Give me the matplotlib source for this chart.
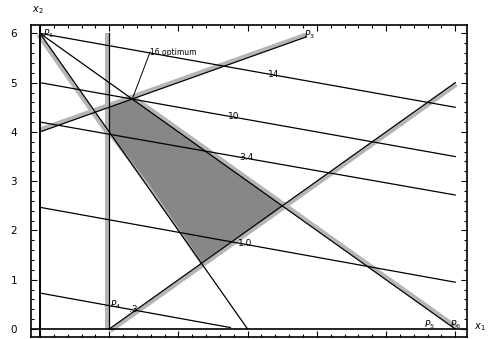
import numpy as np
import matplotlib
matplotlib.use('Agg')
import matplotlib.pyplot as plt
from matplotlib.transforms import offset_copy
from matplotlib.ticker import MultipleLocator

# feasible region
region_x1 = [1.0, 4 / 3, 3.5, 2.34, 1.56, 1.0]
region_x2 = [4.5, 14 / 3, 2.5, 1.36, 2.97, 4.0]

# constraint lines: (x1 start, x2 start, x1 end, x2 end)
c_vert = [1.0, 0.0, 1.0, 6.0]          # x1 = 1
c_steep = [0.0, 6.0, 3.0, 0.0]         # 2 x1 + x2 = 6
c_diag = [0.0, 6.0, 6.0, 0.0]          # x1 + x2 = 6
c_up = [0.0, 4.0, 3.85, 5.93]          # -x1 + 2 x2 = 8
c_rise = [1.0, 0.0, 6.0, 5.0]          # x1 - x2 = 1
opt_pt = [4 / 3, 14 / 3]

# level lines of the objective
lev_start_x1 = [0.0, 0.0, 0.0, 0.0, 0.0]
lev_start_x2 = [6.0, 5.0, 4.2, 2.47, 0.73]
lev_end_x1 = [6.0, 6.0, 6.0, 6.0, 2.75]
lev_end_x2 = [4.5, 3.5, 2.72, 0.95, 0.03]
lev_labels = ['14', '10', '3.4', '1.0', '.3']
lev_lab_x1 = [3.3, 2.72, 2.88, 2.86, 1.28]

fig = plt.figure(figsize=(4.88, 3.39), dpi=100)
ax = fig.add_axes([31 / 488, 2 / 339, 436 / 488, 312 / 339])
ax.set_xlim(-0.13, 6.17)
ax.set_ylim(-0.162, 6.17)

band_col = '#b5b5b5'


def band(seg, side, a=0.0, b=1.0):
    # one sided grey band on the infeasible side of a constraint
    x0, y0, x1, y1 = seg
    p0 = ax.transData.transform((x0, y0))
    p1 = ax.transData.transform((x1, y1))
    d = (p1 - p0) / np.hypot(*(p1 - p0))
    n = np.array([-d[1], d[0]])
    if np.dot(n, side) < 0:
        n = -n
    tr = offset_copy(ax.transData, fig=fig, x=2.3 * n[0], y=2.3 * n[1], units='dots')
    xs = [x0 + a * (x1 - x0), x0 + b * (x1 - x0)]
    ys = [y0 + a * (y1 - y0), y0 + b * (y1 - y0)]
    ax.plot(xs, ys, color=band_col, lw=2.9, solid_capstyle='butt', transform=tr, zorder=2)


def seg_line(seg, lw=0.9):
    ax.plot([seg[0], seg[2]], [seg[1], seg[3]], color='black', lw=lw, zorder=4)


ax.fill(region_x1, region_x2, facecolor='none', edgecolor=band_col, lw=3.5, zorder=1)
ax.fill(region_x1, region_x2, facecolor='#878787', edgecolor='none', zorder=1.5)

band(c_vert, (-1, 0))
band(c_steep, (-1, -1), 0.0, 1 / 3)
band(c_diag, (1, 1), (4 / 3) / 6, 1.0)
band(c_up, (-0.3, 1))
band(c_rise, (1, -1))

for s in [c_vert, c_steep, c_diag, c_up, c_rise]:
    seg_line(s)

for i in range(len(lev_start_x2)):
    ax.plot([lev_start_x1[i], lev_end_x1[i]], [lev_start_x2[i], lev_end_x2[i]],
            color='black', lw=0.9, zorder=3)
    t = (lev_lab_x1[i] - lev_start_x1[i]) / (lev_end_x1[i] - lev_start_x1[i])
    yy = lev_start_x2[i] + t * (lev_end_x2[i] - lev_start_x2[i])
    ax.text(lev_lab_x1[i], yy, lev_labels[i], fontsize=6.5, ha='left', va='center', zorder=5)

# leader from the optimum
ax.plot([opt_pt[0], 1.59], [opt_pt[1], 5.62], color='black', lw=0.7, zorder=4)
ax.text(1.59, 5.62, '16 optimum', fontsize=5.5, ha='left', va='center', zorder=5)

# coordinate axes inside the frame
ax.axvline(0, color='black', lw=1.4, zorder=4)
ax.axhline(0, color='black', lw=1.2, zorder=4)

# point labels
ax.text(0.05, 6.0, '$P_1$', fontsize=6.5, ha='left', va='center', zorder=5)
ax.text(3.82, 5.98, '$P_3$', fontsize=6.5, ha='left', va='center', zorder=5)
ax.text(1.01, 0.5, '$P_4$', fontsize=6.5, ha='left', va='center', zorder=5)
ax.text(5.55, 0.09, '$P_5$', fontsize=6.5, ha='left', va='center', zorder=5)
ax.text(5.92, 0.09, '$P_6$', fontsize=6.5, ha='left', va='center', zorder=5)

ax.xaxis.set_major_locator(MultipleLocator(1))
ax.xaxis.set_minor_locator(MultipleLocator(0.2))
ax.yaxis.set_major_locator(MultipleLocator(1))
ax.yaxis.set_minor_locator(MultipleLocator(0.2))
ax.tick_params(which='both', direction='in', top=True, right=True, width=0.8)
ax.tick_params(which='major', length=4, labelsize=7.5, pad=10)
ax.tick_params(which='minor', length=2)
ax.set_xticklabels([])
ax.set_yticks(range(0, 7))
ax.set_yticklabels([str(v) for v in range(0, 7)])
ax.set_xticklabels([])
for sp in ax.spines.values():
    sp.set_linewidth(1.2)

fig.text(38 / 488, 1 - 10 / 339, '$x_2$', fontsize=7, ha='center', va='center')
fig.text(480 / 488, 1 - 327 / 339, '$x_1$', fontsize=7, ha='center', va='center')

fig.savefig('out.png', dpi=100)
